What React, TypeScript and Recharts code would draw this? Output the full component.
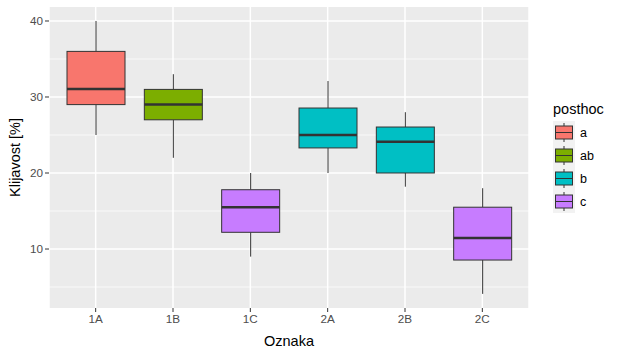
import React from "react";
import {
  ComposedChart,
  Bar,
  XAxis,
  YAxis,
  CartesianGrid,
} from "recharts";

// box statistics
const labels = ["1A", "1B", "1C", "2A", "2B", "2C"];
const groups = ["a", "ab", "c", "b", "b", "c"];
const mins = [25, 22, 9, 20, 18.2, 4.1];
const q1s = [29, 27, 12.2, 23.3, 20, 8.55];
const medians = [31.05, 29, 15.5, 25, 24.1, 11.45];
const q3s = [36, 31, 17.8, 28.55, 26.05, 15.5];
const maxs = [40, 33, 20, 32.1, 28, 18];

const legendGroups = ["a", "ab", "b", "c"];
const groupColors: Record<string, string> = {
  a: "#F8766D",
  ab: "#7CAE00",
  b: "#00BFC4",
  c: "#C77CFF",
};

const yTicks = [10, 20, 30, 40];
const yMinor = [5, 15, 25, 35];

const data = labels.map((name, i) => ({
  name,
  group: groups[i],
  range: [mins[i], maxs[i]],
  min: mins[i],
  q1: q1s[i],
  median: medians[i],
  q3: q3s[i],
  max: maxs[i],
}));

const FONT = "'Liberation Sans', Arial, sans-serif";
const LINE = "#333333";

function BoxShape(props: any) {
  const { x, y, width, height, payload } = props;
  if (!payload) return null;
  const { min, q1, median, q3, max, group } = payload;
  // map a value to pixels using the bar's own [min, max] extent
  const py = (v: number) => y + (height * (max - v)) / (max - min);
  const cx = x + width / 2;
  return (
    <g>
      <line x1={cx} x2={cx} y1={py(max)} y2={py(q3)} stroke={LINE} strokeWidth={1} />
      <line x1={cx} x2={cx} y1={py(q1)} y2={py(min)} stroke={LINE} strokeWidth={1} />
      <rect
        x={x}
        y={py(q3)}
        width={width}
        height={py(q1) - py(q3)}
        fill={groupColors[group]}
        stroke={LINE}
        strokeWidth={1}
      />
      <line x1={x} x2={x + width} y1={py(median)} y2={py(median)} stroke={LINE} strokeWidth={2.5} />
    </g>
  );
}

function LegendBox() {
  return (
    <div style={{ position: "absolute", left: 553, top: 101, fontFamily: FONT }}>
      <div style={{ fontSize: 14.5, color: "#000", marginBottom: 4 }}>posthoc</div>
      {legendGroups.map((g) => (
        <div key={g} style={{ display: "flex", alignItems: "center", height: 23 }}>
          <svg width={22} height={23} style={{ background: "#F2F2F2" }}>
            <line x1={11} x2={11} y1={2} y2={21} stroke={LINE} strokeWidth={1} />
            <rect x={2.5} y={5} width={17} height={13} fill={groupColors[g]} stroke={LINE} strokeWidth={1} />
            <line x1={2.5} x2={19.5} y1={11.5} y2={11.5} stroke={LINE} strokeWidth={1} />
          </svg>
          <span style={{ fontSize: 12.5, color: "#000", marginLeft: 5 }}>{g}</span>
        </div>
      ))}
    </div>
  );
}

export default function App() {
  return (
    <div style={{ position: "absolute", left: 0, top: 0, width: 619, height: 352, background: "#fff" }}>
      <ComposedChart
        width={619}
        height={352}
        data={data}
        margin={{ top: 7, right: 90, bottom: 0, left: 0 }}
      >
        <CartesianGrid
          fill="#EBEBEB"
          stroke="#FFFFFF"
          strokeWidth={0.7}
          vertical={false}
          horizontalValues={yMinor}
        />
        <CartesianGrid
          stroke="#FFFFFF"
          strokeWidth={1.5}
          horizontalValues={yTicks}
        />
        <XAxis
          dataKey="name"
          height={44}
          padding={{ left: 8, right: 8 }}
          axisLine={false}
          tickLine={{ stroke: LINE }}
          tickSize={4}
          tickMargin={3}
          tick={{ fill: "#4D4D4D", fontSize: 11.7, fontFamily: FONT }}
          label={{
            value: "Oznaka",
            position: "insideBottom",
            offset: 6,
            style: { fill: "#000", fontSize: 14.5, fontFamily: FONT },
          }}
        />
        <YAxis
          type="number"
          domain={[2.24, 41.84]}
          ticks={yTicks}
          width={49}
          axisLine={false}
          tickLine={{ stroke: LINE }}
          tickSize={4}
          tickMargin={2}
          tick={{ fill: "#4D4D4D", fontSize: 11.7, fontFamily: FONT }}
          label={{
            value: "Klijavost [%]",
            angle: -90,
            position: "insideLeft",
            offset: 15,
            style: { textAnchor: "middle", fill: "#000", fontSize: 14.5, fontFamily: FONT },
          }}
        />
        <Bar dataKey="range" barSize={58} shape={<BoxShape />} isAnimationActive={false} />
      </ComposedChart>
      <LegendBox />
    </div>
  );
}
